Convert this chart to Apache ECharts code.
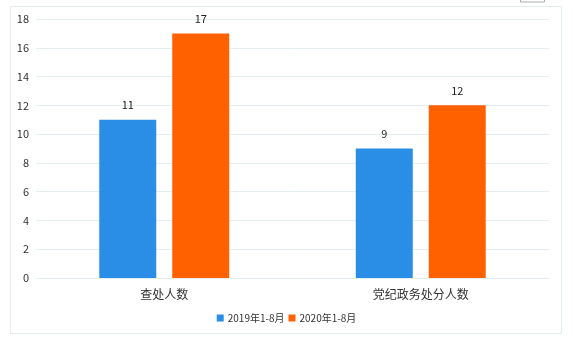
<!DOCTYPE html>
<html><head><meta charset="utf-8">
<script src="https://cdn.jsdelivr.net/npm/echarts@6/dist/echarts.min.js"></script>
<style>html,body{margin:0;padding:0;background:#fff}#c{width:573px;height:344px}</style>
</head><body><div id="c"></div>
<script>
const categories = ['查处人数', '党纪政务处分人数'];
const series2019 = [11, 9];
const series2020 = [17, 12];
const seriesNames = ['2019年1-8月', '2020年1-8月'];

const chart = echarts.init(document.getElementById('c'));
const font = '"Noto Sans CJK SC", "Microsoft YaHei", sans-serif';
chart.setOption({
  animation: false,
  textStyle: { fontFamily: font },
  graphic: [
    { type: 'rect', shape: { x: 10.5, y: 6.5, width: 551, height: 327 }, style: { fill: 'none', stroke: '#e2eced', lineWidth: 1 }, z: -1 },
    { type: 'rect', shape: { x: 520.5, y: -2, width: 24, height: 4 }, style: { fill: 'none', stroke: '#aaaaaa', lineWidth: 1 }, z: -1 }
  ],
  legend: {
    data: seriesNames,
    bottom: 16,
    left: 'center',
    itemWidth: 7, itemHeight: 7, itemGap: 4,
    icon: 'rect',
    textStyle: { fontSize: 10, color: '#333', fontFamily: font, padding: [0, 0, 0, -1] }
  },
  grid: { left: 36, right: 24, top: 19, bottom: 66 },
  xAxis: {
    type: 'category', data: categories,
    axisLine: { show: false }, axisTick: { show: false },
    axisLabel: { color: '#333', fontSize: 12, margin: 10, fontFamily: font }
  },
  yAxis: {
    type: 'value', min: 0, max: 18, interval: 2,
    axisLine: { show: false }, axisTick: { show: false },
    axisLabel: { color: '#333', fontSize: 11, margin: 7, align: 'right', fontFamily: font },
    splitLine: { lineStyle: { color: '#e4eef0', width: 1 } }
  },
  series: [
    { name: seriesNames[0], type: 'bar', data: series2019, barWidth: 57, barGap: '28%',
      itemStyle: { color: '#2a8de6' },
      label: { show: true, position: 'top', distance: 9, color: '#222', fontSize: 11 } },
    { name: seriesNames[1], type: 'bar', data: series2020, barWidth: 57,
      itemStyle: { color: '#ff6100' },
      label: { show: true, position: 'top', distance: 9, color: '#222', fontSize: 11 } }
  ]
});
</script></body></html>
